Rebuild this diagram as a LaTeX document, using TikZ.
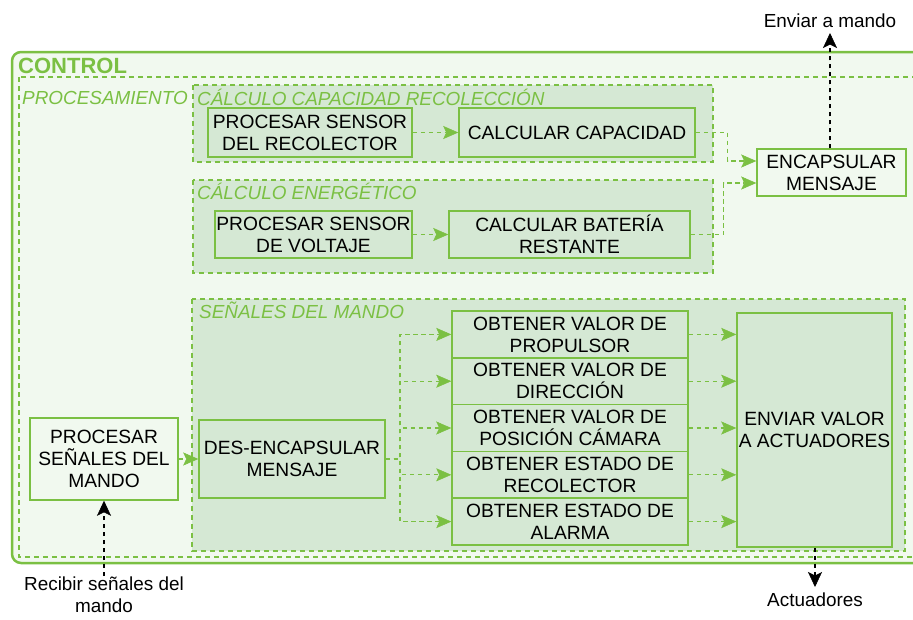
\documentclass[tikz,border=0pt]{standalone}
\usepackage{fontspec}
\setmainfont{Liberation Sans}
\usetikzlibrary{arrows.meta,calc}
\definecolor{gstroke}{HTML}{7BC043}
\definecolor{gfill}{HTML}{D5E8D4}
\definecolor{gpale}{HTML}{F1F9EF}
\newcommand\boxfont{\fontsize{19.2}{22}\selectfont}
\newcommand\lblfont{\fontsize{18.9}{22}\selectfont\itshape}
\begin{document}
\begin{tikzpicture}[x=1pt,y=-1pt,
  box/.style={draw=gstroke, line width=1.5pt, fill=gfill, text=black, font=\boxfont, align=center, inner sep=0pt},
  palebox/.style={box, fill=gpale},
  grp/.style={draw=gstroke, line width=1.1pt, dash pattern=on 5pt off 4pt, fill=gfill},
  grplabel/.style={text=gstroke, font=\lblfont, anchor=west, inner sep=0pt},
  garrow/.style={draw=gstroke, line width=1.2pt, dash pattern=on 4.5pt off 3.5pt, -{Stealth[length=15pt,width=13pt,inset=3pt,fill=gstroke,line width=0.5pt]}},
  karrow/.style={draw=black, line width=1.4pt, dash pattern=on 4pt off 4pt, -{Stealth[length=15pt,width=14pt,inset=3.5pt,fill=black,line width=0.5pt]}},
  outtext/.style={text=black, font=\fontsize{18.9}{22}\selectfont, align=center, inner sep=0pt}
]
\useasboundingbox (0,0) rectangle (913,619);
\clip (0,0) rectangle (913,619);
% outer containers
\draw[gstroke, line width=2.5pt, fill=gpale, rounded corners=9pt] (12,52) rectangle (960,563);
\node[text=gstroke, font=\fontsize{22}{24}\selectfont\bfseries, anchor=west, inner sep=0pt] (ctl) at (18,66) {CONTROL};
\draw[draw=gstroke, line width=1.1pt, dash pattern=on 5pt off 4pt, fill=gpale] (19,77) rectangle (960,557);
\node[grplabel] (proclbl) at (22,98) {PROCESAMIENTO};
% groups
\draw[grp] (193,85) rectangle (713,162);
\node[grplabel] (g1lbl) at (197,97) {CÁLCULO CAPACIDAD RECOLECCIÓN};
\draw[grp] (193,180) rectangle (713,273);
\node[grplabel] (g2lbl) at (197,191) {CÁLCULO ENERGÉTICO};
\draw[grp] (192,299) rectangle (905,551);
\node[grplabel] (g3lbl) at (199,310) {SEÑALES DEL MANDO};
% nodes
\node[box, minimum width=204pt, minimum height=49pt] (p1) at (310,132.5) {PROCESAR SENSOR\\DEL RECOLECTOR};
\node[box, minimum width=236pt, minimum height=49pt] (c1) at (577,132.5) {CALCULAR CAPACIDAD};
\node[box, minimum width=197pt, minimum height=47pt] (p2) at (313.5,234.5) {PROCESAR SENSOR\\DE VOLTAJE};
\node[box, minimum width=241pt, minimum height=47pt] (c2) at (569.5,234.5) {CALCULAR BATERÍA\\RESTANTE};
\node[palebox, minimum width=149pt, minimum height=47pt] (enc) at (831.5,172.5) {ENCAPSULAR\\MENSAJE};
\node[palebox, minimum width=148pt, minimum height=82pt] (psm) at (104,459) {PROCESAR\\SEÑALES DEL\\MANDO};
\node[box, minimum width=186pt, minimum height=78pt] (des) at (292,459) {DES-ENCAPSULAR\\MENSAJE};
\node[box, minimum width=236pt, minimum height=46.8pt] (o1) at (570,334.4) {OBTENER VALOR DE\\PROPULSOR};
\node[box, minimum width=236pt, minimum height=46.8pt] (o2) at (570,381.2) {OBTENER VALOR DE\\DIRECCIÓN};
\node[box, minimum width=236pt, minimum height=46.8pt] (o3) at (570,428) {OBTENER VALOR DE\\POSICIÓN CÁMARA};
\node[box, minimum width=236pt, minimum height=46.8pt] (o4) at (570,474.8) {OBTENER ESTADO DE\\RECOLECTOR};
\node[box, minimum width=236pt, minimum height=46.8pt] (o5) at (570,521.6) {OBTENER ESTADO DE\\ALARMA};
\node[box, minimum width=155pt, minimum height=234pt] (env) at (814.5,430) {ENVIAR VALOR\\A ACTUADORES};
% outside texts
\node[outtext] (envm) at (830,21) {Enviar a mando};
\node[outtext] (act) at (815,600) {Actuadores};
\node[outtext, anchor=north] (rec) at (104,577) {Recibir señales del\\mando};
\coordinate (envtip) at (830,33);
\coordinate (acttip) at (815,587);
\coordinate (recstart) at (104,576);
\coordinate (sp) at (400,459);
% connectors
\draw[garrow] (p1.east) -- (c1.west);
\draw[garrow] (p2.east) -- (c2.west);
\draw[garrow] (c1.east) -- ++(32,0) |- ([yshift=11.5pt]enc.west);
\draw[garrow] (c2.east) -- ++(33,0) |- ([yshift=-10.5pt]enc.west);
\draw[karrow] (enc.north -| envtip) -- (envtip);
\draw[garrow] (psm.east) -- (des.west);
\foreach \o in {o1,o2,o3,o4,o5}{
  \draw[garrow] (des.east) -- (sp) |- (\o.west);
  \draw[garrow] (\o.east) -- (\o.east -| env.west);
}
\draw[karrow] (env.south -| acttip) -- (acttip);
\draw[karrow] (recstart) -- (psm.south);
\end{tikzpicture}
\end{document}
